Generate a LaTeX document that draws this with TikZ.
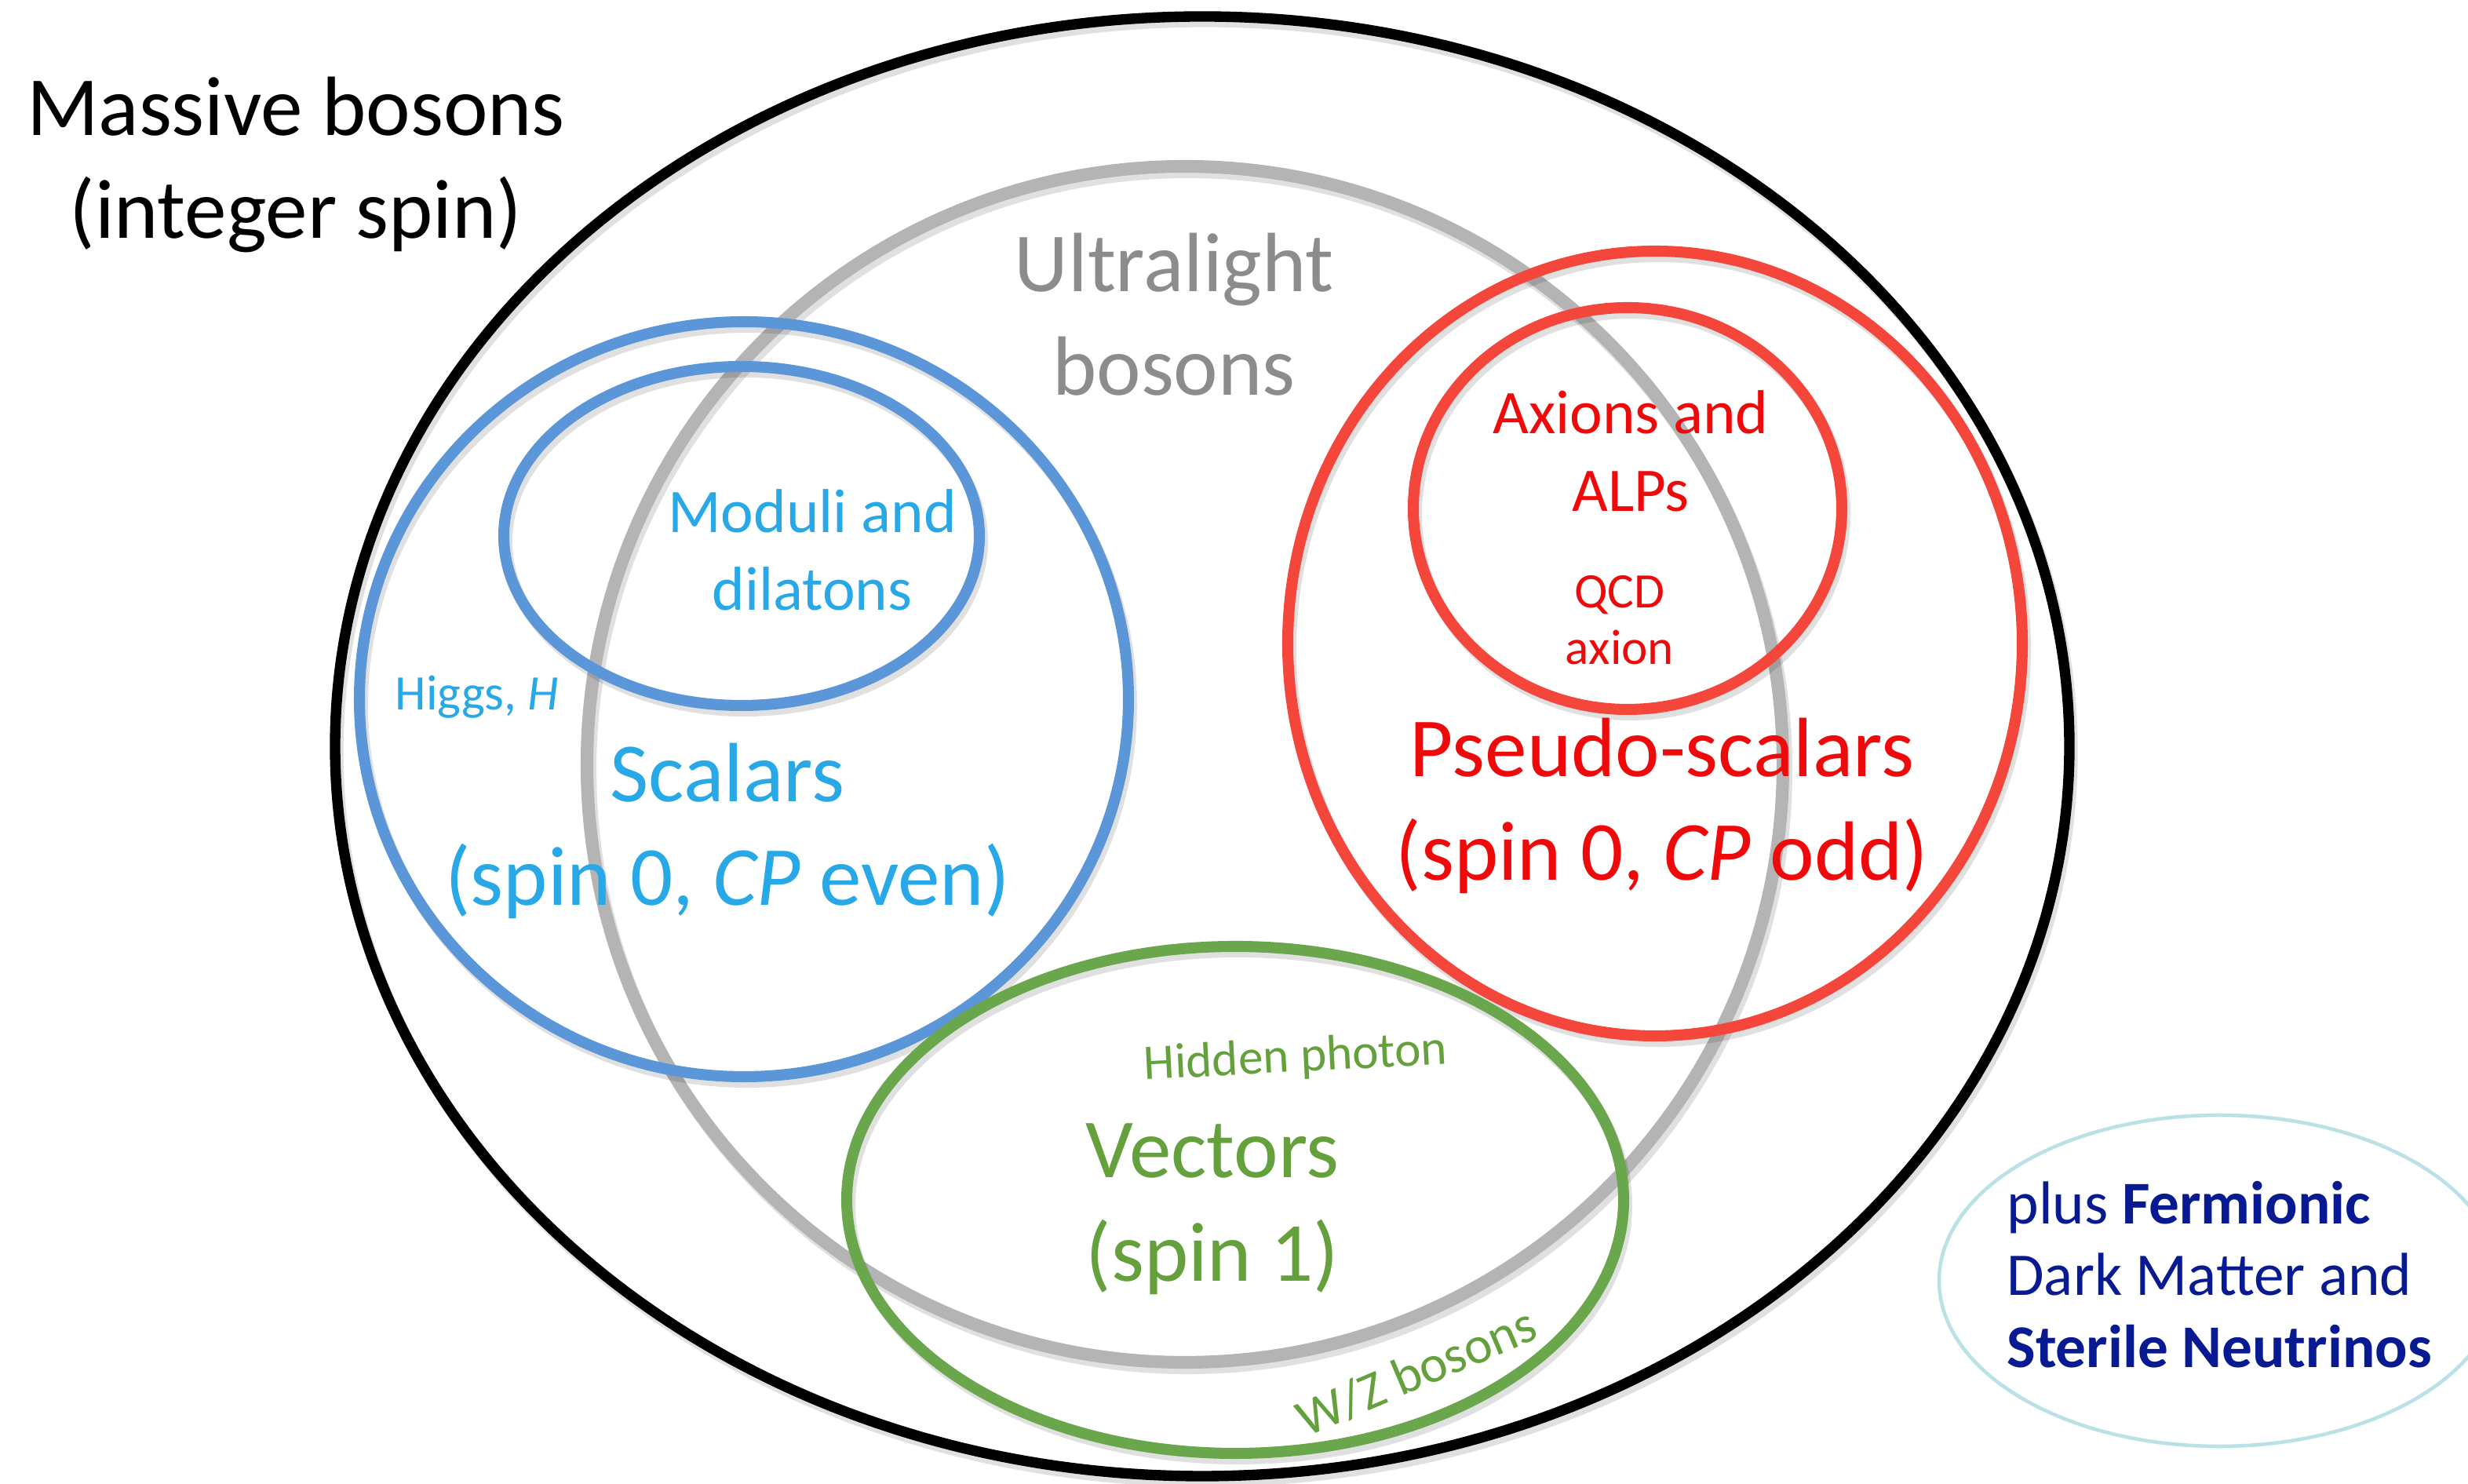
\documentclass[tikz,border=0pt]{standalone}
\usepackage{fontspec}
\setmainfont{Carlito}
\usetikzlibrary{shapes.geometric}

\definecolor{scalarblue}{RGB}{91,151,216}
\definecolor{scalartext}{RGB}{40,168,230}
\definecolor{axionred}{RGB}{245,70,60}
\definecolor{axiontext}{RGB}{238,10,10}
\definecolor{vectorgreen}{RGB}{106,166,76}
\definecolor{vectortext}{RGB}{100,160,60}
\definecolor{lightgrey}{RGB}{180,180,180}
\definecolor{greytext}{RGB}{140,140,140}
\definecolor{fermionblue}{RGB}{8,26,145}
\definecolor{paleblue}{RGB}{185,225,230}

\begin{document}
\begin{tikzpicture}[
		set/.style={draw, ellipse, line width=4pt, inner sep=0pt, outer sep=0pt,
			preaction={draw=black, opacity=0.12, transform canvas={shift={(0.4mm,-0.7mm)}}}},
		biglbl/.style={align=center, font=\fontsize{30.5}{37.5}\selectfont},
		midlbl/.style={align=center, font=\fontsize{22.5}{28}\selectfont},
		smalllbl/.style={align=center, font=\fontsize{18}{20.5}\selectfont}
	]
		\useasboundingbox (0, 0) rectangle (31.45, 18.91);

		% the sets
		\node[set, draw=black, line width=3.8pt, minimum width=22.1cm, minimum height=18.6cm] (massive) at (15.32, 9.40) {};
		\node[set, draw=lightgrey, line width=4.6pt, minimum width=15.24cm, minimum height=15.24cm] (ultralight) at (15.10, 9.17) {};
		\node[set, draw=scalarblue, minimum width=9.8cm, minimum height=9.62cm] (scalars) at (9.48, 10.00) {};
		\node[set, draw=scalarblue, minimum width=6.06cm, minimum height=4.32cm] (moduli) at (9.45, 12.08) {};
		\node[set, draw=axionred, minimum width=9.36cm, minimum height=10cm] (pseudo) at (21.09, 10.71) {};
		\node[set, draw=axionred, minimum width=5.46cm, minimum height=5.12cm] (axions) at (20.74, 12.43) {};
		\node[set, draw=vectorgreen, minimum width=9.9cm, minimum height=6.46cm] (vectors) at (15.74, 3.62) {};
		\node[draw=paleblue, ellipse, line width=1.3pt, minimum width=7.14cm, minimum height=4.22cm] (fermions) at (28.28, 2.59) {};

		% labels
		\node[biglbl] (massivelbl) at (3.77, 16.81) {Massive bosons\\(integer spin)};
		\node[biglbl, text=greytext] (ultralightlbl) at (14.96, 14.90) {Ultralight\\bosons};
		\node[midlbl, text=scalartext] (modulilbl) at (10.35, 11.90) {Moduli and\\dilatons};
		\node[smalllbl, text=scalartext] (higgslbl) at (6.08, 10.03) {Higgs, \textit{H}};
		\node[biglbl, text=scalartext] (scalarslbl) at (9.27, 8.32) {Scalars\\(spin 0, \textit{CP} even)};
		\node[midlbl, text=axiontext] (axionslbl) at (20.78, 13.16) {Axions and\\ALPs};
		\node[smalllbl, text=axiontext] (qcdlbl) at (20.64, 11.01) {QCD\\axion};
		\node[biglbl, text=axiontext] (pseudolbl) at (21.18, 8.64) {Pseudo-scalars\\(spin 0, \textit{CP} odd)};
		\node[smalllbl, text=vectortext, rotate=3] (hiddenlbl) at (16.51, 5.42) {Hidden photon};
		\node[biglbl, text=vectortext] (vectorslbl) at (15.45, 3.50) {Vectors\\(spin 1)};
		\node[smalllbl, text=vectortext, font=\fontsize{19}{21}\selectfont, rotate=23] (wzlbl) at (18.05, 1.43) {W/Z bosons};
		\node[align=left, text=fermionblue, font=\fontsize{22}{26}\selectfont, anchor=west] (fermionlbl) at (25.45, 2.67)
			{plus \textbf{Fermionic}\\Dark Matter and\\\textbf{Sterile Neutrinos}};
	\end{tikzpicture}
\end{document}
